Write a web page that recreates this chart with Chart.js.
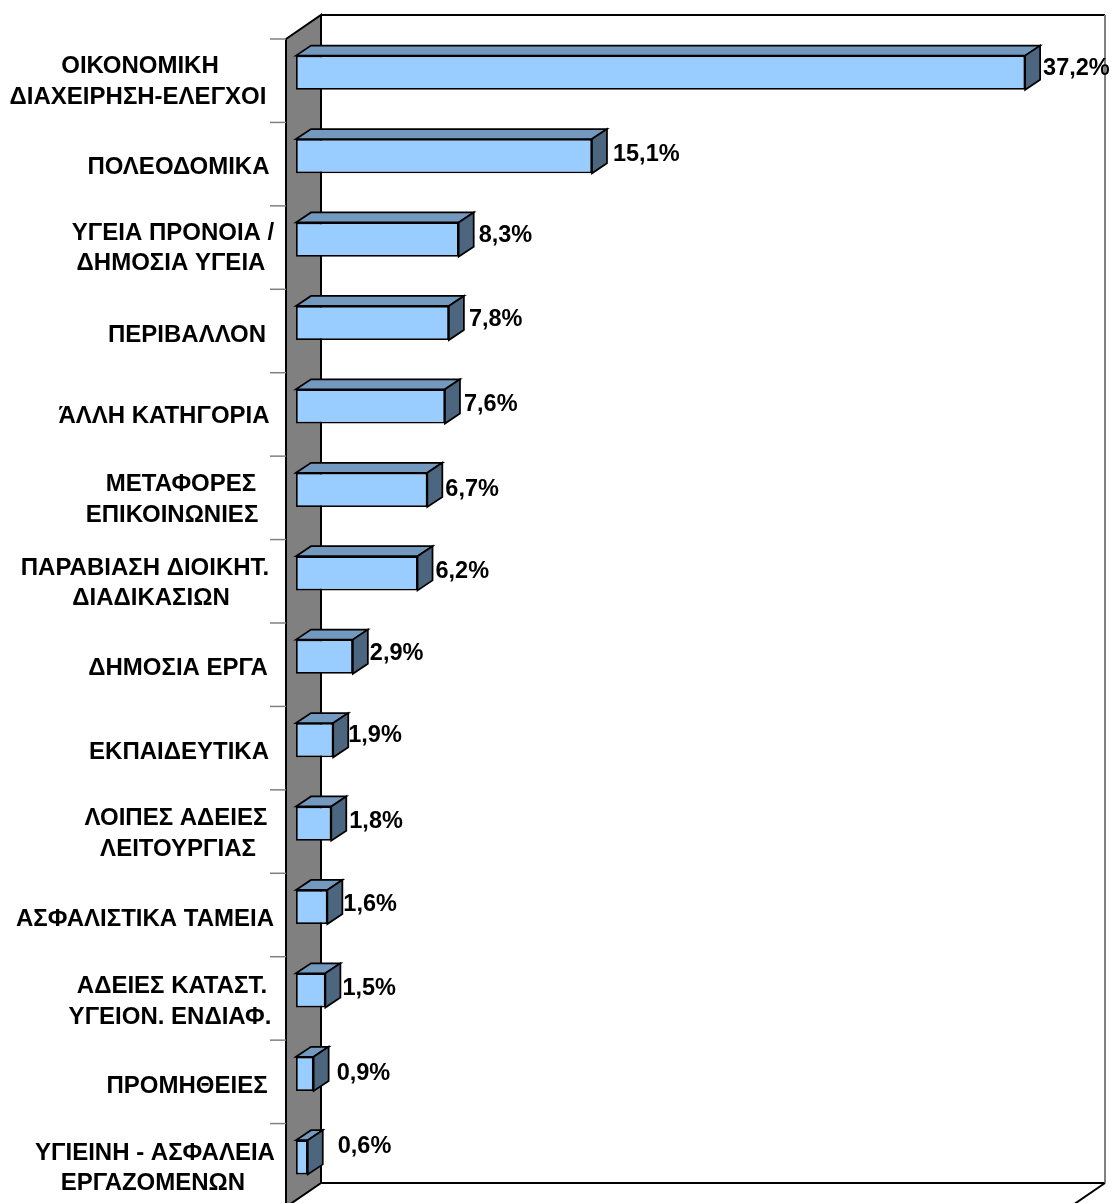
<!DOCTYPE html>
<html lang="el"><head><meta charset="utf-8">
<style>html,body{margin:0;padding:0;background:#fff}canvas{display:block}</style>
<script src="https://cdn.jsdelivr.net/npm/chart.js@4/dist/chart.umd.min.js"></script>
</head><body>
<canvas id="c" width="1113" height="1203"></canvas>
<script>
const categories = [
  ["ΟΙΚΟΝΟΜΙΚΗ","ΔΙΑΧΕΙΡΗΣΗ-ΕΛΕΓΧΟΙ"],["ΠΟΛΕΟΔΟΜΙΚΑ"],["ΥΓΕΙΑ ΠΡΟΝΟΙΑ /","ΔΗΜΟΣΙΑ ΥΓΕΙΑ"],
  ["ΠΕΡΙΒΑΛΛΟΝ"],["ΆΛΛΗ ΚΑΤΗΓΟΡΙΑ"],["ΜΕΤΑΦΟΡΕΣ","ΕΠΙΚΟΙΝΩΝΙΕΣ"],["ΠΑΡΑΒΙΑΣΗ ΔΙΟΙΚΗΤ.","ΔΙΑΔΙΚΑΣΙΩΝ"],
  ["ΔΗΜΟΣΙΑ ΕΡΓΑ"],["ΕΚΠΑΙΔΕΥΤΙΚΑ"],["ΛΟΙΠΕΣ ΑΔΕΙΕΣ","ΛΕΙΤΟΥΡΓΙΑΣ"],["ΑΣΦΑΛΙΣΤΙΚΑ ΤΑΜΕΙΑ"],
  ["ΑΔΕΙΕΣ ΚΑΤΑΣΤ.","ΥΓΕΙΟΝ. ΕΝΔΙΑΦ."],["ΠΡΟΜΗΘΕΙΕΣ"],["ΥΓΙΕΙΝΗ - ΑΣΦΑΛΕΙΑ","ΕΡΓΑΖΟΜΕΝΩΝ"]
];
const values = [37.2,15.1,8.3,7.8,7.6,6.7,6.2,2.9,1.9,1.8,1.6,1.5,0.9,0.6];

// hand placement of the text, as in the original drawing
const catLineCenters = [[140,138],[178.5],[173,171],[187],[164],[181,172],[145,151],[178],[179],[176,178],[145],[172,170],[187],[155,153]];
const catDy = [9,11,9,12,10,10,10,12,12,10.5,12.5,11.5,12.6,11];
const valDx = [3,6,5,5,4,3,3,2,0,3,1,2,8,15];
const valDy = [-4.5,-2,-4.4,-3.9,-2.3,-0.8,-2.2,-2.7,-5.1,-1.6,-2,-1.5,0,-10.4];

const CAT_FONT = 'bold 24px "Liberation Sans", Arial, sans-serif';
const VAL_FONT = 'bold 23.5px "Liberation Sans", Arial, sans-serif';
const LINE = 30.5;
const BAR_D = {x:15, y:-10};
const WALL_D = {x:35, y:-24};
const FRONT_OFF = {x:-10, y:8};

function poly(ctx, pts, fill, stroke, lw){
  ctx.beginPath();
  pts.forEach((p,i)=> i?ctx.lineTo(p[0],p[1]):ctx.moveTo(p[0],p[1]));
  ctx.closePath();
  if(fill){ctx.fillStyle=fill;ctx.fill();}
  if(stroke){ctx.strokeStyle=stroke;ctx.lineWidth=lw;ctx.stroke();}
}
function line(ctx,x0,y0,x1,y1,c,lw){
  ctx.beginPath();ctx.moveTo(x0,y0);ctx.lineTo(x1,y1);ctx.strokeStyle=c;ctx.lineWidth=lw;ctx.stroke();
}

const box3d = {
  id:'box3d',
  beforeDatasetsDraw(chart){
    const {ctx, scales:{x,y}} = chart;
    const fl = x.getPixelForValue(0)+FRONT_OFF.x, fr = x.getPixelForValue(x.max)+FRONT_OFF.x;
    const ft = y.top+FRONT_OFF.y, fb = y.bottom+FRONT_OFF.y;
    const bl = fl+WALL_D.x, br = fr+WALL_D.x, bt = ft+WALL_D.y, bb = fb+WALL_D.y;
    ctx.save();
    poly(ctx,[[fl,ft],[bl,bt],[bl,bb],[fl,fb]],'#808080','#000',2);
    line(ctx,bl,bt,br,bt,'#000',2);
    line(ctx,bl,bb,br,bb,'#000',2);
    line(ctx,br,bt,br,bb,'#808080',2);
    line(ctx,br,bb,fr,fb,'#000',2);
    const step = (y.bottom-y.top)/categories.length;
    for(let i=0;i<=categories.length;i++){
      const ty = ft+i*step;
      line(ctx,fl-16,ty,fl,ty,'#808080',1.5);
    }
    ctx.restore();
  },
  afterDatasetsDraw(chart){
    const {ctx, scales:{y}} = chart;
    const meta = chart.getDatasetMeta(0);
    ctx.save();
    ctx.lineJoin='miter';
    meta.data.forEach((b,i)=>{
      const h=b.height/2, x0=b.base, x1=b.x, t=b.y-h, bt=b.y+h, dx=BAR_D.x, dy=BAR_D.y;
      poly(ctx,[[x0,t],[x0+dx,t+dy],[x1+dx,t+dy],[x1,t]],'#7399BF','#000',1.75);
      poly(ctx,[[x1,t],[x1+dx,t+dy],[x1+dx,bt+dy],[x1,bt]],'#4D6680','#000',1.75);
      ctx.fillStyle='#000';ctx.textBaseline='middle';ctx.textAlign='left';
      ctx.font=VAL_FONT;
      ctx.fillText(String(values[i]).replace('.',',')+'%',x1+dx+valDx[i],b.y+valDy[i]);
      const lines=categories[i], cy=y.getPixelForValue(i)+catDy[i];
      ctx.textAlign='center';
      ctx.font=CAT_FONT;
      lines.forEach((s,k)=>{
        ctx.fillText(s,catLineCenters[i][k],cy+(k-(lines.length-1)/2)*LINE);
      });
    });
    ctx.restore();
  }
};

new Chart(document.getElementById('c'),{
  type:'bar',
  data:{labels:categories.map(l=>l.join(' ')),datasets:[{data:values,backgroundColor:'#99CCFF',borderColor:'#000',borderWidth:1.75,borderSkipped:false,barPercentage:0.41,categoryPercentage:1}]},
  options:{
    indexAxis:'y',responsive:false,animation:false,
    layout:{padding:{left:296,right:33,top:31,bottom:4}},
    plugins:{legend:{display:false},tooltip:{enabled:false},title:{display:false}},
    scales:{
      x:{display:false,min:0,max:40},
      y:{display:false}
    }
  },
  plugins:[box3d]
});
</script>
</body></html>
